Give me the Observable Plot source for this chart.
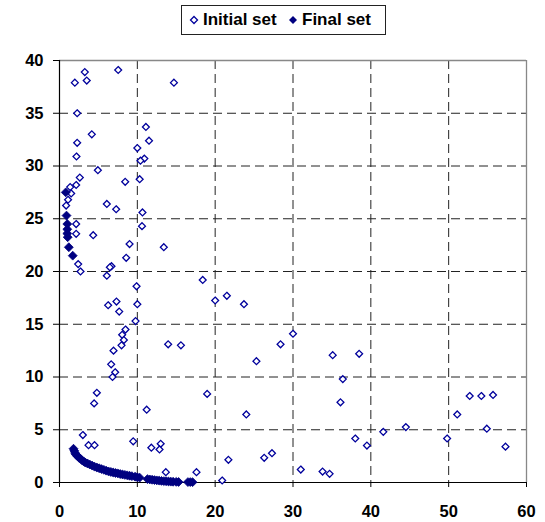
<!DOCTYPE html>
<html><head><meta charset="utf-8">
<script src="https://cdn.jsdelivr.net/npm/d3@7"></script>
<script src="https://cdn.jsdelivr.net/npm/@observablehq/plot@0.6"></script>
<style>
body{margin:0;background:#fff;}
#wrap{position:relative;width:545px;height:522px;}
#legend{position:absolute;left:181px;top:5px;width:205px;height:30px;border:1px solid #222;box-sizing:border-box;background:#fff;font:bold 17px "Liberation Sans",Arial,sans-serif;color:#000;}
#legend span{position:absolute;top:4px;white-space:nowrap;}
#legend svg{position:absolute;top:9px;}
</style>
</head><body>
<div id="wrap">
<div id="legend">
  <svg width="10" height="10" style="left:7px"><path d="M5,1.5L8.5,5L5,8.5L1.5,5Z" fill="#fff" stroke="#00009c" stroke-width="1.3"/></svg>
  <span style="left:21px">Initial set</span>
  <svg width="10" height="10" style="left:106px"><path d="M5,1L9,5L5,9L1,5Z" fill="#000080"/></svg>
  <span style="left:120px">Final set</span>
</div>
</div>
<script>
const xTicks = [0,10,20,30,40,50,60];
const yTicks = [0,5,10,15,20,25,30,35,40];

const initialX = [1.97,3.25,3.5,7.54,14.7,2.27,11.1,4.15,11.5,2.27,10.0,2.18,10.9,10.4,4.93,2.61,10.3,8.44,2.14,1.37,1.5,1.1,0.85,6.08,7.28,10.66,10.6,2.14,2.14,4.33,9.0,13.4,8.57,2.4,6.68,6.47,2.7,6.08,9.9,6.25,7.32,10.0,7.67,18.4,20.0,21.5,23.7,9.77,8.48,8.05,8.27,7.97,13.96,15.6,6.94,6.64,7.15,6.81,4.8,4.45,18.97,11.2,3.0,3.73,4.5,9.47,11.8,13.0,12.85,21.7,13.66,17.6,20.9,30.0,28.4,25.3,35.1,38.5,36.4,36.1,24.0,51.1,52.7,54.2,55.7,41.6,44.5,54.9,49.8,38.0,39.5,57.3,26.3,27.3,31.0,33.8,34.7];
const initialY = [37.9,38.9,38.1,39.1,37.9,35.0,33.7,33.0,32.4,32.2,31.7,30.9,30.7,30.5,29.6,28.9,28.75,28.5,28.2,28.0,27.4,26.8,26.25,26.4,25.9,25.6,24.3,24.5,23.57,23.44,22.6,22.3,21.3,20.7,20.5,20.4,20.0,19.6,18.6,16.8,17.15,16.9,16.2,19.2,17.25,17.7,16.9,15.3,14.5,14.0,13.5,13.0,13.1,13.0,12.5,11.2,10.45,10.0,8.5,7.5,8.4,6.9,4.5,3.54,3.54,3.9,3.3,3.67,3.13,2.15,0.98,0.98,0.19,14.1,13.1,11.5,12.07,12.2,9.8,7.6,6.45,6.45,8.2,8.2,8.3,4.8,5.25,5.1,4.17,4.17,3.5,3.4,2.34,2.78,1.23,1.04,0.82];

const finalX = [0.8,0.9,1.0,1.0,1.0,1.05,1.2,1.7,1.8,1.9,2.0,2.1,2.3,2.5,2.7,2.9,3.1,3.3,3.6,3.9,4.2,4.5,4.8,5.1,5.4,5.7,6.0,6.3,6.6,6.9,7.2,7.5,7.8,8.1,8.4,8.7,9.0,9.3,9.7,10.0,10.3,11.3,11.6,11.9,12.2,12.5,12.8,13.1,13.4,13.7,14.0,14.3,14.6,15.0,15.3,16.5,16.8,17.1];
const finalY = [27.5,25.3,24.5,24.0,23.6,23.25,22.3,21.5,3.2,3.0,2.8,2.65,2.5,2.35,2.25,2.1,2.0,1.9,1.8,1.7,1.6,1.5,1.42,1.35,1.27,1.2,1.12,1.05,1.0,0.95,0.9,0.86,0.8,0.76,0.72,0.68,0.64,0.6,0.55,0.5,0.46,0.32,0.29,0.26,0.23,0.2,0.18,0.15,0.13,0.12,0.1,0.08,0.07,0.06,0.05,0.04,0.04,0.03];

const initial = initialX.map((x,i)=>({x, y: initialY[i]}));
const final = finalX.map((x,i)=>({x, y: finalY[i]}));

const chart = Plot.plot({
  width: 545, height: 522,
  marginLeft: 59, marginRight: 19, marginTop: 60, marginBottom: 40,
  style: {fontFamily: '"Liberation Sans", Arial, sans-serif', fontSize: "16.5px", fontWeight: "bold", color: "#000", background: "transparent", overflow: "visible"},
  x: {domain: [0, 60], ticks: xTicks, tickSize: 5, tickPadding: 18, tickFormat: d => d, label: null},
  y: {domain: [0, 40], ticks: yTicks, tickSize: 6, tickPadding: 10, tickFormat: d => d, label: null},
  marks: [
    Plot.ruleX(xTicks.filter(d => d > 0 && d < 60), {stroke: "#222", strokeDasharray: "9,5", strokeWidth: 1}),
    Plot.ruleY(yTicks.filter(d => d > 0 && d < 40), {stroke: "#222", strokeDasharray: "9,5", strokeWidth: 1}),
    Plot.ruleY([40], {stroke: "#888", strokeWidth: 1.3}),
    Plot.ruleX([60], {stroke: "#888", strokeWidth: 1.3}),
    Plot.ruleX([0], {stroke: "#000", strokeWidth: 1.2}),
    Plot.ruleY([0], {stroke: "#000", strokeWidth: 1.2}),
    Plot.dot(initial, {x: "x", y: "y", symbol: "diamond2", r: 3.1, stroke: "#00009c", fill: "#fff", strokeWidth: 1.3}),
    Plot.dot(final, {x: "x", y: "y", symbol: "diamond2", r: 4, fill: "#000080", stroke: "#000080", strokeWidth: 0.8})
  ]
});
document.getElementById("wrap").prepend(chart);
</script>
</body></html>
